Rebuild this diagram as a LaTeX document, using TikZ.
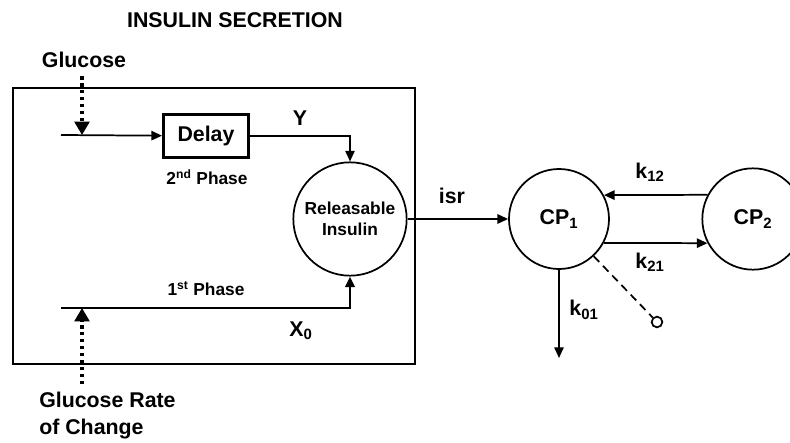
\documentclass[tikz,border=0pt]{standalone}
\usepackage{fontspec}
\setmainfont{Liberation Sans}
\usetikzlibrary{positioning}
\usetikzlibrary{arrows.meta}
\tikzstyle{box}      = [rectangle, draw, line width=2pt, minimum width=64pt,
                        minimum height=32pt, font=\fontsize{16}{20}\selectfont\bfseries]
\tikzstyle{pool}     = [circle, draw, line width=1.3pt, inner sep=0pt,
                        font=\fontsize{16}{20}\selectfont\bfseries]
\tikzstyle{lbl}      = [inner sep=0pt, font=\fontsize{16}{20}\selectfont\bfseries]
\tikzstyle{small}    = [inner sep=0pt, font=\fontsize{13}{16}\selectfont\bfseries]
\tikzstyle{arrow}    = [line width=1.3pt, -{Triangle[length=8pt, width=7pt]}]
\tikzstyle{dotarrow} = [line width=2.6pt, dash pattern=on 2.6pt off 2.6pt,
                        -{Triangle[length=10pt, width=11pt]}]

\begin{document}
\begin{tikzpicture}[x=0.75pt, y=-0.75pt]
\useasboundingbox (0,0) rectangle (790,443);
\node (title) [lbl] at (235,20) {INSULIN SECRETION};
\node (glucose) [lbl] at (84,60) {Glucose};
\draw [line width=2.2pt] (13,88) rectangle (415,364);
\node (delay) [box] at (206,136) {Delay};
\node (releasable) [pool, minimum size=85pt, align=center,
      font=\fontsize{13}{16}\selectfont\bfseries] at (350,219) {Releasable\\Insulin};
\node (cp1) [pool, minimum size=75pt] at (559,219) {CP\textsubscript{1}};
\node (cp2) [pool, minimum size=76pt] at (753,219) {CP\textsubscript{2}};
\node (rate) [lbl, align=left, anchor=north west] at (39,392) {Glucose Rate\\of Change};
\node (probe) [circle, draw, line width=1.3pt, minimum size=8pt, inner sep=0pt] at (657,322) {};
\coordinate (glucose in) at (61,135);
\coordinate (glucose tip) at (82,135);
\coordinate (first in) at (61,308);
\coordinate (rate tip) at (82,308);
\coordinate (k01 end) at (559,358);
% labels
\node (second phase) [small] at (207,177) {2\textsuperscript{nd} Phase};
\node (first phase) [small] at (206,289) {1\textsuperscript{st} Phase};
\node (y label) [lbl] at (300,118) {Y};
\node (x0 label) [lbl] at (301,331) {X\textsubscript{0}};
\node (isr label) [lbl] at (452,196) {isr};
\node (k12 label) [lbl] at (650,172) {k\textsubscript{12}};
\node (k21 label) [lbl] at (650,262) {k\textsubscript{21}};
\node (k01 label) [lbl] at (584,310) {k\textsubscript{01}};
% connectors
\draw [dotarrow, shorten <=6pt] (glucose tip |- glucose.south) -- (glucose tip);
\draw [arrow] (glucose in) -- (delay);
\draw [arrow] (delay) -| (releasable);
\draw [arrow, line width=2pt] (first in) -| (releasable);
\draw [dotarrow, shorten <=6pt] (rate tip |- rate.north) -- (rate tip);
\draw [arrow] (releasable) -- (cp1);
\draw [arrow] (cp2.152) -- (cp1.28);
\draw [arrow] (cp1.-28) -- (cp2.208);
\draw [arrow] (cp1) -- (k01 end);
\draw [line width=1.3pt, dash pattern=on 6pt off 4pt] (cp1.-47) -- (probe);
\end{tikzpicture}
\end{document}
